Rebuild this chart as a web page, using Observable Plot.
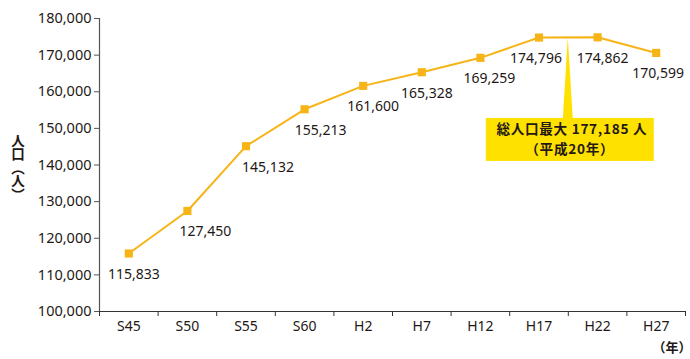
<!DOCTYPE html>
<html><head><meta charset="utf-8">
<script src="https://cdn.jsdelivr.net/npm/d3@7"></script>
<script src="https://cdn.jsdelivr.net/npm/@observablehq/plot@0.6"></script>
<style>
body{margin:0;background:#fff;}
svg{font-family:"Noto Sans","Noto Sans CJK JP",sans-serif;}
</style></head>
<body><div id="chart"></div>
<script>
const years = ["S45","S50","S55","S60","H2","H7","H12","H17","H22","H27"];
const population = [115833,127450,145132,155213,161600,165328,169259,174796,174862,170599];
const yTicks = [100000,110000,120000,130000,140000,150000,160000,170000,180000];
const peakYearIndex = 7.5; // H20, between H17 and H22
const peakLine1 = "総人口最大 177,185 人";
const peakLine2 = "（平成20年）";
const yLabel = "人口（人）";
const xLabel = "（年）";

// label nudges (style only)
const labelDx = [5, 18, 22, 16, 10, 5, 9, -3, 5, 2];

const data = years.map((y, i) => ({i, year: y, value: population[i], dx: labelDx[i]}));
const lineColor = "#F7B417";
const fmt = d3.format(",");

const annotation = (index, scales) => {
  const px = scales.x(peakYearIndex);
  const py = scales.y((population[7] + population[8]) / 2);
  const g = d3.create("svg:g");
  const boxTop = py + 81, boxH = 43, boxW = 168;
  g.append("polygon")
    .attr("points", `${px},${py} ${px-5},${boxTop+1} ${px+5},${boxTop+1}`)
    .attr("fill", "#FFE100");
  g.append("rect").attr("x", px - boxW/2 + 2).attr("y", boxTop).attr("width", boxW).attr("height", boxH)
    .attr("fill", "#FFE100");
  const lines = [[peakLine1, px + 4, boxTop + 16], [peakLine2, px + 2, boxTop + 36]];
  for (const [txt, x, y] of lines) {
    g.append("text").attr("text-anchor", "middle")
      .attr("x", x).attr("y", y)
      .attr("font-family", "'Noto Sans CJK JP', sans-serif")
      .attr("font-weight", "bold").attr("font-size", 13.6).attr("fill", "#231815")
      .attr("letter-spacing", 0.7)
      .text(txt);
  }
  return g.node();
};

const yTitle = (index, scales, values, dims) => {
  const cy = (dims.marginTop + dims.height - dims.marginBottom) / 2 + 3;
  const g = d3.create("svg:g");
  g.append("text")
    .attr("x", 18).attr("y", cy)
    .attr("text-anchor", "middle")
    .attr("style", "writing-mode: vertical-rl")
    .attr("font-family", "'Noto Sans CJK JP', sans-serif")
    .attr("font-weight", "bold").attr("font-size", 13.5).attr("fill", "#231815")
    .text(yLabel);
  return g.node();
};

const labels = data.map(d => Plot.text([d], {x: "i", y: "value", text: d => fmt(d.value), dx: d.dx, dy: 21, fontSize: 14, fill: "#231815"}));

const chart = Plot.plot({
  width: 690, height: 359,
  marginLeft: 99, marginRight: 5, marginTop: 18, marginBottom: 48,
  style: {fontSize: "14px", color: "#231815", background: "#fff"},
  x: {domain: [-0.5, 9.5], axis: null},
  y: {domain: [100000, 180000], axis: null},
  marks: [
    Plot.axisY({ticks: yTicks, tickFormat: fmt, tickSize: 5, tickPadding: 3, fontSize: 14.5, stroke: "#555", label: null}),
    Plot.axisX({ticks: d3.range(-0.5, 10, 1), tickFormat: () => "", tickSize: 5, stroke: "#333", label: null}),
    Plot.axisX({ticks: d3.range(0, 10), tickFormat: i => years[i], tickSize: 0, tickPadding: 10, fontSize: 14, label: null}),
    Plot.ruleX([-0.5], {stroke: "#555", strokeWidth: 1.2}),
    Plot.ruleY([100000], {stroke: "#333", strokeWidth: 1.2}),
    Plot.line(data, {x: "i", y: "value", stroke: lineColor, strokeWidth: 2}),
    Plot.dot(data, {x: "i", y: "value", symbol: "square", r: 4.6, fill: lineColor, stroke: "none"}),
    ...labels,
    annotation,
    yTitle,
    Plot.text([xLabel], {frameAnchor: "bottom-right", dy: 40, dx: 6, textAnchor: "end", text: d => d, fontSize: 13,
      fontFamily: "'Noto Sans CJK JP', sans-serif", fontWeight: "bold", fill: "#231815"})
  ]
});
document.getElementById("chart").append(chart);
</script></body></html>
